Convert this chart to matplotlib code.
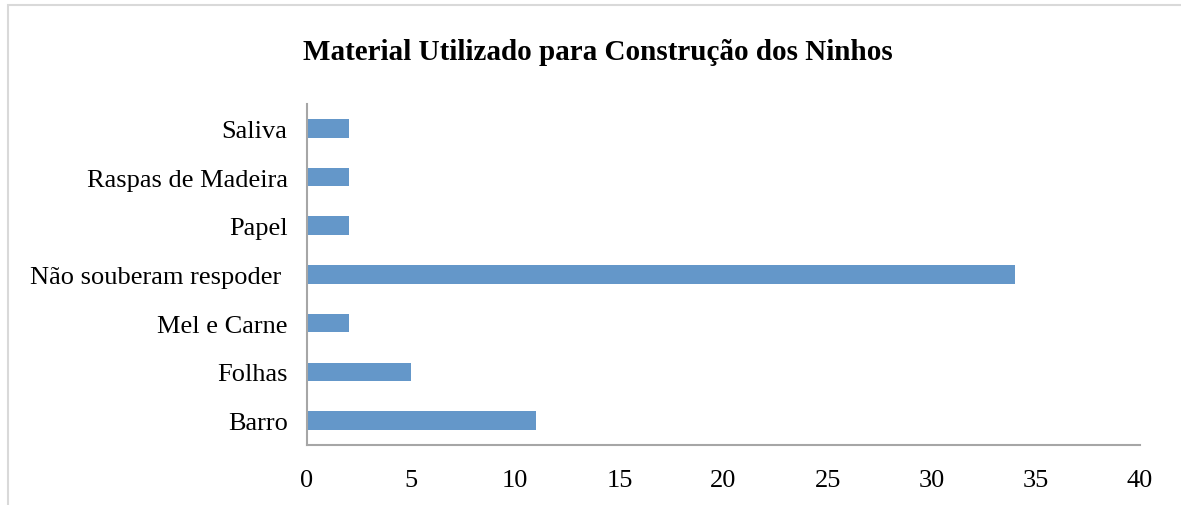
import matplotlib.pyplot as plt
from matplotlib.patches import Rectangle

# DATA
materiais = ["Barro", "Folhas", "Mel e Carne", "Não souberam respoder ",
             "Papel", "Raspas de Madeira", "Saliva"]
respostas = [11, 5, 2, 34, 2, 2, 2]
x_ticks = [0, 5, 10, 15, 20, 25, 30, 35, 40]

plt.rcParams['font.family'] = ['Liberation Serif', 'DejaVu Serif']

fig = plt.figure(figsize=(11.81, 5.06), dpi=100)
ax = fig.add_axes([0.26, 0.1186, 0.7053, 0.674])

# light frame around the chart area
fig.patches.append(Rectangle((8 / 1181, -0.05), 1.2, (506 - 6) / 506 + 0.05,
                             transform=fig.transFigure, fill=False,
                             edgecolor='#D9D9D9', linewidth=1.5))

ax.barh(range(len(materiais)), respostas, height=0.38, color='#6497C9')

ax.set_xlim(0, 40)
ax.set_ylim(-0.5, len(materiais) - 0.5)
ax.set_xticks(x_ticks)
ax.set_yticks(range(len(materiais)))
ax.set_yticklabels(materiais)

for side in ['top', 'right']:
    ax.spines[side].set_visible(False)
for side in ['left', 'bottom']:
    ax.spines[side].set_color('#A6A6A6')
    ax.spines[side].set_linewidth(1.5)

ax.tick_params(axis='both', length=0, labelsize=19, colors='black')
ax.tick_params(axis='y', pad=14)
ax.tick_params(axis='x', pad=17)

fig.text(0.506, 0.896, "Material Utilizado para Construção dos Ninhos",
         ha='center', va='center', fontsize=21, fontweight='bold')

fig.savefig("out.png", dpi=100)
